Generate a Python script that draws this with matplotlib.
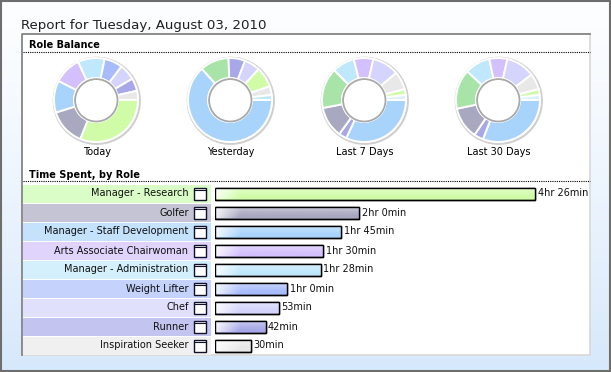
import numpy as np
import matplotlib
matplotlib.use('Agg')
import matplotlib.pyplot as plt
from matplotlib.patches import Rectangle, Circle

W, H = 611, 372

roles = ['Manager - Research', 'Golfer', 'Manager - Staff Development',
         'Arts Associate Chairwoman', 'Manager - Administration', 'Weight Lifter',
         'Chef', 'Runner', 'Inspiration Seeker']
minutes_today = [266, 120, 105, 90, 88, 60, 53, 42, 30]
role_colors = ['#d0fca8', '#a8a8c0', '#a8d4fc', '#d4c0fc', '#c0e8fc',
               '#a8bcfc', '#d4d4fc', '#a8a8e8', '#e8e8e8']
row_colors = ['#dafcc6', '#c4c4d4', '#c4e2fc', '#e0d4fc', '#d4f0fc',
              '#c4d2fc', '#e0e0fc', '#c4c4f0', '#f0f0f0']

# other periods (degrees, clockwise from 3 o'clock)
yesterday_vals = [228, 40, 23, 22, 28, 12, 7]
yesterday_cols = ['#a8d4fc', '#a8e4a8', '#a8a8e8', '#d4d4fc', '#d0fca8', '#e8e8e8', '#c0e8fc']
last7_vals = [115, 11, 43, 56, 31, 27, 37, 25, 8, 7]
last30_vals = [111, 13, 44, 55, 35, 25, 40, 22, 8, 7]
period_cols = ['#a8d4fc', '#a8a8e8', '#a8a8c0', '#a8e4a8', '#c0e8fc',
               '#d4c0fc', '#d4d4fc', '#e8e8e8', '#d0fca8', '#dcf0fc']

periods = ['Today', 'Yesterday', 'Last 7 Days', 'Last 30 Days']
period_data = [(minutes_today, role_colors), (yesterday_vals, yesterday_cols),
               (last7_vals, period_cols), (last30_vals, period_cols)]
donut_x = [96, 230, 364, 498]
donut_y = 100

plt.rcParams['font.family'] = 'DejaVu Sans'

fig = plt.figure(figsize=(W / 100, H / 100), dpi=100)


def px_axes(x0, y0, x1, y1, z=1):
    ax = fig.add_axes([x0 / W, 1 - y1 / H, (x1 - x0) / W, (y1 - y0) / H])
    ax.set_zorder(z)
    ax.axis('off')
    return ax


def fmt_min(m):
    if m >= 60:
        return '{}hr {}min'.format(m // 60, m % 60)
    return '{}min'.format(m)


def shade(c, w, hgt, ramp):
    # light top-left highlight fading into the role colour
    rgb = np.array(matplotlib.colors.to_rgb(c))
    h = np.clip(0.15 + np.arange(w) / ramp, 0, 1)[None, :, None]
    v = np.linspace(0.55, 1.0, hgt)[:, None, None]
    return 1 + (rgb - 1) * np.clip(h * v * 1.1, 0, 1)


# page background + frame, drawn in pixel coords
bg = px_axes(0, 0, W, H, z=0)
grad = np.linspace(0, 1, 200)[:, None, None]
top = np.array([0.99, 0.995, 1.0])
bot = np.array([0.84, 0.91, 0.985])
bg.imshow(top + (bot - top) * grad ** 1.3, extent=(0, W, H, 0), aspect='auto')
bg.set_xlim(0, W)
bg.set_ylim(H, 0)
bg.add_patch(Rectangle((0.5, 0.5), W - 1.5, H - 1.5, fc='none', ec='#6e6e6e', lw=1.5))
bg.add_patch(Rectangle((22, 34), 568, 321, fc='white', ec='none'))
bg.plot([22, 590, 590], [355, 355, 34], color='#d8d8d8', lw=1.2)
bg.plot([22, 22, 590], [355, 34, 34], color='#7a7a7a', lw=1.2)
bg.text(21, 26, 'Report for Tuesday, August 03, 2010', fontsize=9.6,
        va='center', ha='left', color='#202020')
bg.text(29, 45, 'Role Balance', fontsize=7.0, fontweight='bold', va='center')
bg.plot([23, 590], [51.5, 51.5], color='black', lw=0.8, ls=(0, (1, 1)))
bg.text(29, 174.5, 'Time Spent, by Role', fontsize=7.0, fontweight='bold', va='center')
bg.plot([23, 590], [180.5, 180.5], color='black', lw=0.8, ls=(0, (1, 1)))

# donuts
for name, (vals, cols), cx in zip(periods, period_data, donut_x):
    ax = px_axes(cx - 47, donut_y - 47, cx + 47, donut_y + 47, z=2)
    ax.add_patch(Circle((0.8, -0.8), 43, fc='none', ec='#cfcfcf', lw=1.6, zorder=0))
    ax.pie(vals, colors=cols, radius=42, startangle=0, counterclock=False,
           wedgeprops=dict(width=20, edgecolor='white', linewidth=1.4))
    ax.add_patch(Circle((0, 0), 22, fc='white', ec='#ffffff', lw=1.0, zorder=5))
    ax.add_patch(Circle((0.3, -0.3), 21.2, fc='none', ec='#a9a9a9', lw=1.3, zorder=6))
    ax.set_xlim(-47, 47)
    ax.set_ylim(-47, 47)
    bg.text(cx + 1, 152, name, fontsize=7.0, ha='center', va='center')

# role labels column
n = len(roles)
ypos = np.arange(n)
lab = px_axes(23, 184, 211, 184 + 19 * n, z=2)
lab.barh(ypos, 188, height=18 / 19, left=0, color=row_colors)
lab.set_xlim(0, 188)
lab.set_ylim(n - 0.5, -0.5)
for i, (r, c) in enumerate(zip(roles, role_colors)):
    lab.text(165.5, i, r, ha='right', va='center', fontsize=7.0, color='#101010')
    icon = Rectangle((170.5, i - 6 / 19), 12, 12 / 19, fc='white', ec='#101028', lw=1.0, zorder=3)
    lab.add_patch(icon)
    im = lab.imshow(shade(c, 12, 12, 6), extent=(170.5, 182.5, i + 6 / 19, i - 6 / 19),
                    aspect='auto', zorder=2.5)
    im.set_clip_path(icon)
    lab.plot([170.5, 182.5], [i - 3.5 / 19, i - 3.5 / 19], color='#101028', lw=0.8, zorder=4)
lab.set_xlim(0, 188)
lab.set_ylim(n - 0.5, -0.5)

# time bars
scale = 320 / 266.0  # px per minute
bar = px_axes(215, 184, 590, 184 + 19 * n, z=2)
bars = bar.barh(ypos, minutes_today, height=12 / 19, left=0, color=role_colors,
                edgecolor='black', linewidth=1.0)
for rect, c, m in zip(bars, role_colors, minutes_today):
    x0, y0 = rect.get_x(), rect.get_y()
    wpx = int(round(rect.get_width() * scale))
    im = bar.imshow(shade(c, wpx, 12, 30), extent=(x0, x0 + rect.get_width(), y0 + rect.get_height(), y0),
                    aspect='auto', zorder=rect.get_zorder() + 0.1)
    im.set_clip_path(rect)
    bar.add_patch(Rectangle((x0, y0), rect.get_width(), rect.get_height(),
                            fc='none', ec='black', lw=1.0, zorder=rect.get_zorder() + 0.2))
    bar.text(m + 2.5 / scale, rect.get_y() + rect.get_height() / 2, fmt_min(m),
             ha='left', va='center', fontsize=7.0, color='#101010')
bar.set_xlim(0, 375 / scale)
bar.set_ylim(n - 0.5, -0.5)

fig.savefig('out.png', dpi=100)
